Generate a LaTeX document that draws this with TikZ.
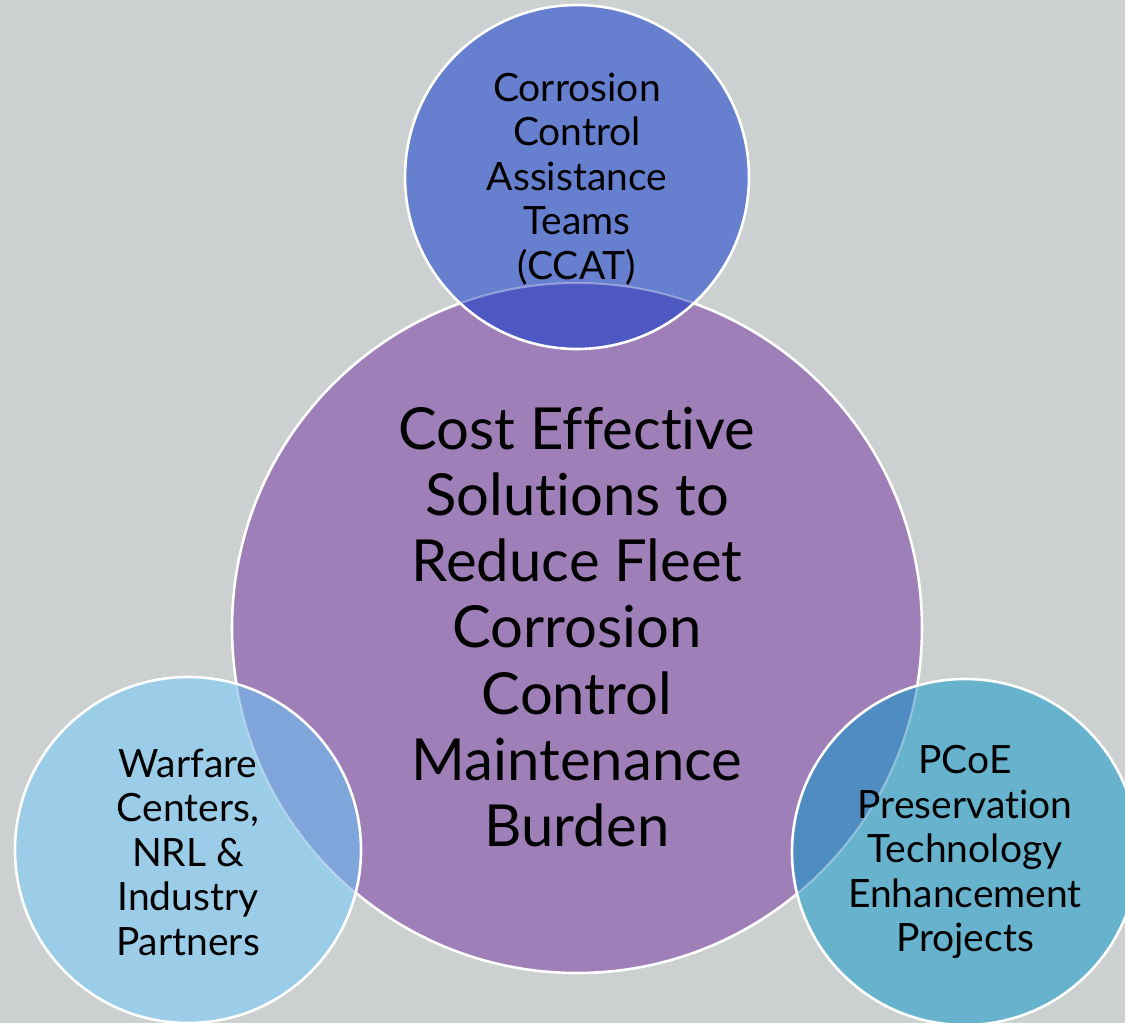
\documentclass[tikz,border=0pt]{standalone}
\usepackage{fontspec}
\setmainfont[Ligatures={NoCommon}]{Lato}
\definecolor{bg}{HTML}{CCD0D0}
\definecolor{purp}{HTML}{9E7FB7}
\definecolor{topc}{HTML}{6680CF}
\definecolor{topov}{HTML}{4E58C2}
\definecolor{leftc}{HTML}{9BCDE8}
\definecolor{leftov}{HTML}{80A5DA}
\definecolor{rightc}{HTML}{67B3CE}
\definecolor{rightov}{HTML}{4E8CC2}
\tikzset{
  ring/.style={draw=white, line width=2.6pt},
  faint/.style={draw=white, draw opacity=0.35, line width=2pt},
  bigtxt/.style={align=center, text=black, font=\fontsize{58}{66.3}\selectfont},
  smalltxt/.style={align=center, text=black, font=\fontsize{39}{44.5}\selectfont},
}
\begin{document}
\begin{tikzpicture}[x=1pt,y=-1pt]
\fill[bg] (0,0) rectangle (1125,1023);
\useasboundingbox (0,0) rectangle (1125,1023);
\coordinate (cb) at (577,628);
\coordinate (ct) at (577,177);
\coordinate (cl) at (188,850);
\coordinate (cr) at (965,852);
% big circle
\fill[purp] (cb) circle[radius=345];
\draw[ring] (cb) circle[radius=345];
% top circle
\fill[topc] (ct) circle[radius=172];
\begin{scope}
  \clip (cb) circle[radius=345];
  \fill[topov] (ct) circle[radius=172];
\end{scope}
\begin{scope}
  \clip (ct) circle[radius=172];
  \draw[faint] (cb) circle[radius=345];
\end{scope}
\draw[ring] (ct) circle[radius=172];
% left circle
\fill[leftc] (cl) circle[radius=173];
\begin{scope}
  \clip (cb) circle[radius=345];
  \fill[leftov] (cl) circle[radius=173];
\end{scope}
\begin{scope}
  \clip (cl) circle[radius=173];
  \draw[faint] (cb) circle[radius=345];
\end{scope}
\draw[ring] (cl) circle[radius=173];
% right circle
\fill[rightc] (cr) circle[radius=173];
\begin{scope}
  \clip (cb) circle[radius=345];
  \fill[rightov] (cr) circle[radius=173];
\end{scope}
\begin{scope}
  \clip (cr) circle[radius=173];
  \draw[faint] (cb) circle[radius=345];
\end{scope}
\draw[ring] (cr) circle[radius=173];
% texts
\node[bigtxt] (tb) at (577,627) {Cost Effective\\Solutions to\\Reduce Fleet\\Corrosion\\Control\\Maintenance\\Burden};
\node[smalltxt] (tt) at (577,179) {Corrosion\\Control\\Assistance\\Teams\\(CCAT)};
\node[smalltxt] (tl) at (188,852) {Warfare\\Centers,\\NRL \&\\Industry\\Partners};
\node[smalltxt] (tr) at (965,852) {PCoE\\Preservation\\Technology\\Enhancement\\Projects};
\end{tikzpicture}
\end{document}
